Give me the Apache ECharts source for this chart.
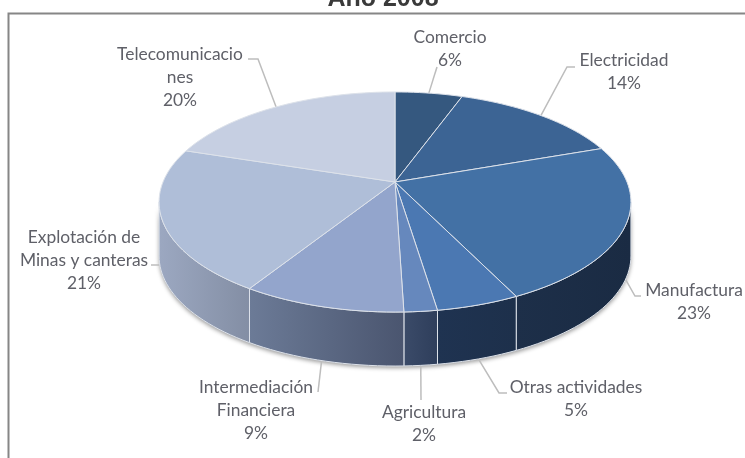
<!DOCTYPE html>
<html>
<head>
<meta charset="utf-8">
<style>
  html, body { margin: 0; padding: 0; background: #fff; }
  #chart { width: 745px; height: 458px; }
</style>
<script src="https://cdn.jsdelivr.net/npm/echarts@6/dist/echarts.min.js"></script>
</head>
<body>
<div id="chart"></div>
<script>
const titleText = 'Año 2008';
const categories = ['Comercio', 'Electricidad', 'Manufactura', 'Otras actividades', 'Agricultura', 'Intermediación Financiera', 'Explotación de Minas y canteras', 'Telecomunicaciones'];
const shares = [5.5, 14.1, 23.2, 4.8, 1.9, 9.4, 21.1, 20.0];
const labelLines = [
  ['Comercio'],
  ['Electricidad'],
  ['Manufactura'],
  ['Otras actividades'],
  ['Agricultura'],
  ['Intermediación', 'Financiera'],
  ['Explotación de', 'Minas y canteras'],
  ['Telecomunicacio', 'nes']
];

// colores de cada rebanada: tapa y costado (izq -> der)
const topColors = ['#35587f', '#3c6494', '#4371a5', '#4b78b2', '#6688bd', '#93a5cc', '#afbed8', '#c6cfe2'];
const sideColors = [
  ['#1b2c44', '#1b2c44'], ['#1b2c44', '#1b2c44'], ['#1d2f49', '#1a2b43'], ['#1f3351', '#1d304b'],
  ['#3b4b69', '#2e3e5b'], ['#6c7b97', '#4a556f'], ['#9ca8c1', '#838ea4'], ['#9ca8c1', '#9ca8c1']
];

// proyección en perspectiva del disco
const hubX = 395, hubY = 182, scaleX = 232, scaleY = 106.4, persp = 0.1818, depth = 54;

function project(pct) {
  const a = pct / 100 * Math.PI * 2;
  const u = Math.sin(a), v = Math.cos(a), w = 1 + persp * v;
  return [hubX + scaleX * u / w, hubY - scaleY * v / w];
}

function rim(from, to) {
  const pts = [];
  const n = Math.max(2, Math.ceil((to - from) * 2));
  for (let i = 0; i <= n; i++) pts.push(project(from + (to - from) * i / n));
  return pts;
}

// costado visible: parte del borde frontal, donde el disco es más ancho
const sideFrom = 27.9, sideTo = 72.1;

function sidePoints(from, to) {
  const upper = rim(from, to);
  const lower = upper.slice().reverse().map((p) => [p[0], p[1] + depth]);
  return upper.concat(lower);
}

// posición de cada etiqueta (centro del bloque) y codo de la guía
const labelBoxes = [
  { x: 450, y: 49, elbow: null, end: [437, 67] },
  { x: 624, y: 72, elbow: [567, 67], end: [575, 67] },
  { x: 694, y: 302, elbow: [635, 296], end: [641, 296] },
  { x: 576, y: 399, elbow: [499, 393], end: [507, 393] },
  { x: 424, y: 424, elbow: null, end: [421, 400] },
  { x: 256, y: 410, elbow: null, end: [318, 392] },
  { x: 84, y: 260, elbow: [163, 265], end: [151, 265] },
  { x: 180, y: 77, elbow: [258, 59], end: [248, 59] }
];

let cum = 0;
const slices = shares.map((s, i) => {
  const item = { name: categories[i], value: [i, cum, cum + s] };
  cum += s;
  return item;
});

function renderSlice(params, api) {
  const i = api.value(0), from = api.value(1), to = api.value(2);
  const pts = [[hubX, hubY]].concat(rim(from, to));
  return {
    type: 'polygon',
    shape: { points: pts },
    z2: 10,
    style: { fill: topColors[i], stroke: '#dde2ea', lineWidth: 1, lineJoin: 'round' }
  };
}

function renderSide(params, api) {
  const i = api.value(0);
  const from = Math.max(api.value(1), sideFrom), to = Math.min(api.value(2), sideTo);
  if (to <= from) return { type: 'group', children: [] };
  return {
    type: 'polygon',
    shape: { points: sidePoints(from, to) },
    style: {
      fill: new echarts.graphic.LinearGradient(0, 0, 1, 0, [
        { offset: 0, color: sideColors[i][0] },
        { offset: 1, color: sideColors[i][1] }
      ]),
      stroke: '#dde2ea',
      lineWidth: 1
    }
  };
}

// sombra bajo todo el costado
function renderShadow() {
  return {
    type: 'polygon',
    shape: { points: sidePoints(sideFrom, sideTo) },
    style: {
      fill: '#8a8f99',
      shadowColor: 'rgba(0,0,0,0.4)',
      shadowBlur: 4,
      shadowOffsetY: 2
    }
  };
}

function renderLabel(params, api) {
  const i = api.value(0);
  const box = labelBoxes[i];
  const pct = Math.round(shares[i]) + '%';
  const mid = project(api.value(1) + (api.value(2) - api.value(1)) / 2);
  const front = i >= 2 && i <= 6;
  const anchor = [mid[0], mid[1] + (front ? depth : 0)];
  const line = box.elbow ? [anchor, box.elbow, box.end] : [anchor, box.end];
  return {
    type: 'group',
    children: [
      {
        type: 'polyline',
        shape: { points: line },
        style: { fill: 'none', stroke: '#bdbdbd', lineWidth: 1.5 }
      },
      {
        type: 'text',
        style: {
          x: box.x,
          y: box.y,
          text: labelLines[i].concat(pct).join('\n'),
          font: '17.4px Lato',
          lineHeight: 23,
          fill: '#5f6068',
          align: 'center',
          verticalAlign: 'middle'
        }
      }
    ]
  };
}

const chart = echarts.init(document.getElementById('chart'), null, { renderer: 'canvas' });
chart.setOption({
  animation: false,
  backgroundColor: '#ffffff',
  title: {
    text: titleText,
    left: 378,
    top: -18,
    textAlign: 'center',
    textStyle: { fontFamily: 'Liberation Sans', fontWeight: 'bold', fontSize: 25, color: '#3a3a3a' }
  },
  graphic: [
    {
      type: 'polyline',
      shape: { points: [[8.5, 458], [8.5, 13.5], [745, 13.5]] },
      style: { fill: 'none', stroke: '#868686', lineWidth: 2 },
      z: -1
    }
  ],
  series: [
    { type: 'custom', coordinateSystem: 'none', silent: true, clip: false, data: [0], z: 1, renderItem: renderShadow },
    { type: 'custom', coordinateSystem: 'none', silent: true, clip: false, data: slices, z: 2, renderItem: renderSide },
    { type: 'custom', coordinateSystem: 'none', silent: true, clip: false, data: slices, z: 3, renderItem: renderSlice },
    { type: 'custom', coordinateSystem: 'none', silent: true, clip: false, data: slices, z: 1, renderItem: renderLabel }
  ]
});

window.addEventListener('resize', () => {
  chart.resize();
});
</script>
</body>
</html>
